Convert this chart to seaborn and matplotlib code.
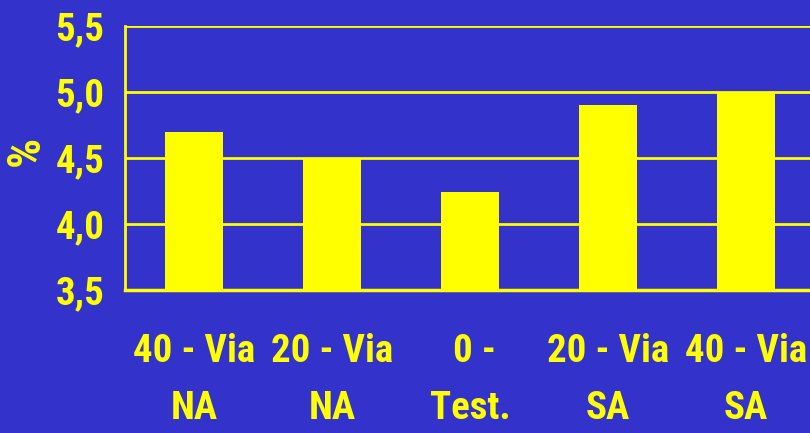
import matplotlib
matplotlib.use("Agg")
import matplotlib.pyplot as plt
import seaborn as sns

# values
categories = ["40 - Via\nNA", "20 - Via\nNA", " 0 -\nTest.", "20 - Via\nSA", "40 - Via\nSA"]
values = [4.70, 4.50, 4.24, 4.90, 5.00]
yticks = [3.5, 4.0, 4.5, 5.0, 5.5]
ytick_labels = ["3,5", "4,0", "4,5", "5,0", "5,5"]

bg = "#3333CC"
yellow = "#FFFF00"

sns.set_style("white")
plt.rcParams['font.family'] = ['Roboto Condensed', 'DejaVu Sans']
plt.rcParams['font.weight'] = 'bold'

fig = plt.figure(figsize=(8.1, 4.33), dpi=100, facecolor=bg)
ax = fig.add_axes([125 / 810, 1 - 290 / 433, 690 / 810, 264 / 433])
ax.set_facecolor(bg)

sns.barplot(x=categories, y=values, color=yellow, width=0.42, saturation=1,
            edgecolor=yellow, linewidth=0, ax=ax, zorder=3)

ax.set_ylim(3.5, 5.5)
ax.set_xlim(-0.5, 4.5)
ax.set_yticks(yticks)
ax.set_yticklabels(ytick_labels)
ax.yaxis.grid(True, color=yellow, linewidth=2)
ax.set_axisbelow(True)

ax.set_xticks([i - 0.5 for i in range(6)], minor=True)
ax.tick_params(axis='x', which='major', length=0, pad=31, labelsize=28,
               colors=yellow)
ax.tick_params(axis='x', which='minor', length=10, width=2, color=yellow,
               direction='out')
ax.tick_params(axis='y', length=10, width=2, color=yellow, pad=5,
               labelsize=28, labelcolor=yellow, direction='out')
for t in ax.get_xticklabels():
    t.set_linespacing(1.68)
    t.set_fontweight('bold')
for t in ax.get_yticklabels():
    t.set_fontweight('bold')

ax.set_ylabel("")
ax.set_xlabel("")
fig.text(26 / 810, 1 - 151 / 433, "%", color=yellow, fontsize=34,
         fontweight='bold', rotation=90, ha='center', va='center')

for side in ['top', 'right']:
    ax.spines[side].set_visible(False)
ax.spines['left'].set_color(yellow)
ax.spines['left'].set_linewidth(2)
ax.spines['bottom'].set_color(yellow)
ax.spines['bottom'].set_linewidth(2.5)

fig.savefig("out.png", dpi=100, facecolor=bg)
